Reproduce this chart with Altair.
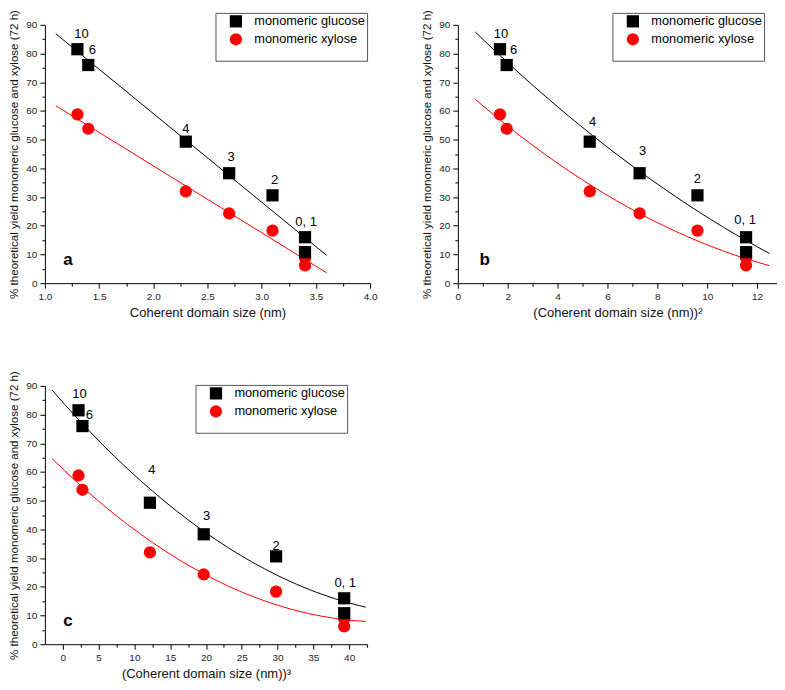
import altair as alt
import pandas as pd

# ---------------- data ----------------
sample_labels = ["10", "6", "4", "3", "2", "0, 1", ""]
size_nm = [1.3, 1.4, 2.3, 2.7, 3.1, 3.4, 3.4]
size_nm_sq = [1.69, 1.96, 5.29, 7.29, 9.61, 11.56, 11.56]
size_nm_cu = [2.197, 2.744, 12.167, 19.683, 29.791, 39.304, 39.304]
glucose = [81.5, 76.0, 49.3, 38.3, 30.6, 16.0, 10.8]
xylose = [58.8, 53.8, 32.0, 24.3, 18.3, 8.8, 6.2]
series_names = ["monomeric glucose", "monomeric xylose"]

y_ticks = [0, 10, 20, 30, 40, 50, 60, 70, 80, 90]
y_minor = [5, 15, 25, 35, 45, 55, 65, 75, 85]
xa_ticks = [1.0, 1.5, 2.0, 2.5, 3.0, 3.5, 4.0]
xa_minor = [1.25, 1.75, 2.25, 2.75, 3.25, 3.75]
xb_ticks = [0, 2, 4, 6, 8, 10, 12]
xb_minor = [1, 3, 5, 7, 9, 11]
xc_ticks = [0, 5, 10, 15, 20, 25, 30, 35, 40]
xc_minor = [2.5, 7.5, 12.5, 17.5, 22.5, 27.5, 32.5, 37.5, 42.5]

Y_TITLE = "% theoretical yield monomeric glucose and xylose (72 h)"

# ---------------- style ----------------
FONT = "Liberation Sans"
COLORS = ["#000000", "#ff0000"]
SHAPES = ["square", "circle"]
# pixel offsets of the sample-number annotations (dx, dy)
offsets_a = [(4, -15), (4, -15), (0, -13), (2, -16), (2, -15), (1, -15), (0, 0)]
offsets_b = [(1, -15), (7, -15), (3, -20), (3, -22), (0, -16), (-1, -17), (0, 0)]
offsets_c = [(1, -16), (7, -11), (2, -33), (3, -18), (0, -10), (1, -15), (0, 0)]


def make_df(xs):
    rows = []
    for i, x in enumerate(xs):
        rows.append(dict(x=x, y=glucose[i], series=series_names[0], label=sample_labels[i]))
        rows.append(dict(x=x, y=xylose[i], series=series_names[1], label=""))
    return pd.DataFrame(rows)


def panel(xs, offsets, xdom, xticks, xminor, xfmt, xtitle, method, extent,
          letter, letter_x, legend_x, legend_y, width):
    df = make_df(xs)
    xscale = alt.Scale(domain=xdom, nice=False, zero=False)
    yscale = alt.Scale(domain=[0, 90], nice=False, zero=False)
    xaxis = alt.Axis(values=xticks, format=xfmt, title=xtitle, orient="bottom",
                     tickSize=5, labelPadding=3, titlePadding=5, titleFontSize=13)
    yaxis = alt.Axis(values=y_ticks, title=Y_TITLE, orient="left", tickSize=5,
                     labelPadding=3, titlePadding=6, titleFontSize=11.6)
    xminor_axis = alt.Axis(values=xminor, orient="bottom", labels=False,
                           domain=False, tickSize=3, title=None)
    yminor_axis = alt.Axis(values=y_minor, orient="left", labels=False,
                           domain=False, tickSize=3, title=None)
    legend = alt.Legend(orient="none", legendX=legend_x, legendY=legend_y,
                        title=" ", titleOrient="bottom", titleFontSize=11,
                        titlePadding=2, strokeColor="#555555", fillColor="white",
                        padding=2, symbolOffset=12, labelOffset=12, rowPadding=4,
                        labelFontSize=12.8, labelColor="#000000", labelFont=FONT,
                        symbolSize=150, symbolStrokeWidth=0)

    xs_enc = alt.X("x:Q", scale=xscale, axis=None)
    ys_enc = alt.Y("y:Q", scale=yscale, axis=None)

    layers = []
    for k, (name, col) in enumerate(zip(series_names, COLORS)):
        layers.append(
            alt.Chart(df).transform_filter(alt.datum.series == name).transform_regression(
                "x", "y", method=method, extent=extent
            ).mark_line(strokeWidth=1, color=col).encode(
                x=alt.X("x:Q", scale=xscale, axis=xaxis if k == 0 else None),
                y=alt.Y("y:Q", scale=yscale, axis=yaxis if k == 0 else None),
            )
        )
    layers.append(
        alt.Chart(df).mark_point(opacity=0).encode(
            x=alt.X("x:Q", scale=xscale, axis=xminor_axis),
            y=alt.Y("y:Q", scale=yscale, axis=yminor_axis),
        )
    )
    layers.append(
        alt.Chart(df).mark_point(filled=True, opacity=1, size=150).encode(
            x=xs_enc, y=ys_enc,
            color=alt.Color("series:N", scale=alt.Scale(domain=series_names, range=COLORS),
                            legend=legend),
            shape=alt.Shape("series:N", scale=alt.Scale(domain=series_names, range=SHAPES),
                            legend=legend),
        )
    )
    for lab, (dx, dy) in zip(sample_labels, offsets):
        if not lab:
            continue
        layers.append(
            alt.Chart(df).transform_filter(alt.datum.label == lab).mark_text(
                font=FONT, fontSize=13, color="#000000", baseline="middle",
                align="center", dx=dx, dy=dy
            ).encode(x=xs_enc, y=ys_enc, text="label:N")
        )
    layers.append(
        alt.Chart(pd.DataFrame({"t": [letter]})).mark_text(
            font=FONT, fontSize=17, fontWeight="bold", align="center", baseline="middle"
        ).encode(x=alt.value(letter_x), y=alt.value(236), text="t:N")
    )

    return alt.layer(*layers).resolve_axis(
        x="independent", y="independent"
    ).properties(width=width, height=259)


pa = panel(size_nm, offsets_a, [1.0, 4.0], xa_ticks, xa_minor, ".1f",
           "Coherent domain size (nm)", "linear", [1.1, 3.6], "a", 23, 171, -12, 326)
pb = panel(size_nm_sq, offsets_b, [0, 12.8], xb_ticks, xb_minor, "d",
           "(Coherent domain size (nm))²", "quad", [0.7, 12.5], "b", 27, 155, -12, 320)
pc = panel(size_nm_cu, offsets_c, [-2.5, 42.5], xc_ticks, xc_minor, "d",
           "(Coherent domain size (nm))³", "quad", [-1.5, 42.3], "c", 23, 151, -1, 323)

chart = alt.concat(
    pa, pb, pc, columns=2, spacing={"row": 103, "column": 88}, bounds="flush"
).resolve_scale(
    color="independent", shape="independent"
).resolve_legend(
    color="independent", shape="independent"
).properties(padding=0).configure_view(stroke=None).configure_axis(
    labelFont=FONT, titleFont=FONT, labelFontSize=10, labelColor="#222222",
    titleColor="#111111", titleFontWeight="normal", domainColor="#000000",
    tickColor="#000000", grid=False, labelFlush=False, labelOverlap=False
)

chart.save("out.html", embed_options={"renderer": "svg", "actions": False})
